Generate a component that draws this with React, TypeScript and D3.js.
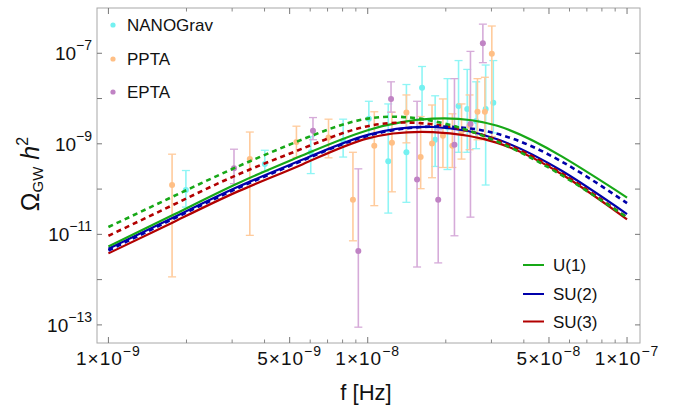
import React from 'react'
import * as d3 from 'd3'

// model curves (f in Hz, Omega h^2)
const curveFreq = [1e-9, 1.78e-9, 3.16e-9, 5.62e-9, 1e-8, 1.78e-8, 3.16e-8, 5.62e-8, 1e-7]
const u1Solid = [5.4e-12, 2.7e-11, 1.35e-10, 5.6e-10, 2.0e-9, 3.6e-9, 2.5e-9, 5.2e-10, 6.5e-11]
const u1Dashed = [1.45e-11, 6.9e-11, 3.16e-10, 1.26e-9, 3.6e-9, 3.2e-9, 1.12e-9, 2.0e-10, 2.35e-11]
const su2Solid = [4.8e-12, 2.35e-11, 1.12e-10, 4.5e-10, 1.58e-9, 2.35e-9, 1.26e-9, 2.5e-10, 2.8e-11]
const su2Dashed = [4.4e-12, 2.2e-11, 1.05e-10, 4.3e-10, 1.5e-9, 2.4e-9, 1.66e-9, 4.0e-10, 4.9e-11]
const su3Solid = [3.8e-12, 1.86e-11, 8.9e-11, 3.55e-10, 1.32e-9, 1.82e-9, 1.05e-9, 2.1e-10, 2.15e-11]
const su3Dashed = [9.3e-12, 4.5e-11, 2.1e-10, 7.9e-10, 2.45e-9, 2.7e-9, 1.2e-9, 2.2e-10, 2.35e-11]

// PTA data: frequency, central value, upper and lower end of the bar
const nanoFreq = [1.99e-9, 4.01e-9, 6.03e-9, 8.04e-9, 1.01e-8, 1.2e-8, 1.41e-8, 1.62e-8, 1.82e-8, 2.03e-8, 2.24e-8, 2.42e-8, 2.62e-8, 2.85e-8, 3.05e-8]
const nanoVal = [9.5e-11, 3.6e-10, 6.5e-10, 1.17e-9, 3.6e-9, 4.1e-10, 6.5e-10, 1.74e-8, 1.23e-9, 2.34e-9, 6.8e-9, 5.9e-9, 3.2e-9, 5.9e-9, 8.1e-9]
const nanoHi = [2.57e-10, 7.2e-10, 1.45e-9, 3.5e-9, 8.7e-9, 7.6e-9, 2.04e-8, 5.1e-8, 1.15e-8, 2.75e-8, 6.9e-8, 4.4e-8, 2.34e-8, 5.5e-8, 6.9e-8]
const nanoLo = [4.0e-11, 2.45e-10, 2.2e-10, 5.1e-10, 1.29e-9, 2.95e-11, 5.1e-11, 3.4e-9, 3.16e-10, 2.7e-10, 6.5e-10, 6.5e-10, 7.8e-10, 1.23e-10, 1.74e-9]

const pptaFreq = [1.76e-9, 3.51e-9, 5.31e-9, 7.06e-9, 8.77e-9, 1.06e-8, 1.24e-8, 1.41e-8, 1.6e-8, 1.77e-8, 1.95e-8, 2.12e-8, 2.3e-8, 2.47e-8, 2.65e-8, 2.83e-8, 3.01e-8]
const pptaVal = [1.23e-10, 4.6e-10, 1.1e-9, 1.38e-9, 5.8e-11, 9.1e-10, 1.05e-9, 4.9e-9, 5.1e-10, 1.02e-9, 1.51e-9, 9.1e-10, 1.86e-9, 2.5e-9, 5.1e-9, 5.1e-9, 9.8e-8]
const pptaHi = [5.9e-10, 1.82e-9, 2.45e-9, 3.5e-9, 6.5e-10, 5.1e-9, 5.0e-9, 1.2e-8, 4.0e-9, 7.2e-9, 9.8e-9, 4.6e-9, 7.6e-9, 1.2e-8, 2.75e-8, 2.95e-8, 4.0e-7]
const pptaLo = [1.15e-12, 9.5e-12, 5.0e-10, 4.9e-10, 7.2e-12, 4.3e-11, 8.7e-11, 1.05e-9, 1.02e-10, 1.78e-10, 3.0e-10, 3.0e-10, 4.6e-10, 7.4e-10, 1.23e-9, 1.23e-9, 1.45e-9]

const eptaFreq = [3.05e-9, 6.15e-9, 9.2e-9, 1.23e-8, 1.55e-8, 1.87e-8, 2.16e-8, 2.49e-8, 2.78e-8]
const eptaVal = [2.9e-10, 1.95e-9, 4.3e-12, 9.8e-9, 1.62e-10, 5.8e-11, 9.5e-10, 2.75e-9, 1.66e-7]
const eptaHi = [7.6e-10, 3.8e-9, 2.8e-10, 2.34e-8, 8.7e-9, 2.04e-9, 2.75e-8, 1.1e-7, 4.4e-7]
const eptaLo = [1.32e-10, 1.23e-9, 8.9e-14, 5.0e-9, 1.9e-12, 2.34e-12, 9.3e-12, 2.4e-11, 6.2e-8]

const xMajor = [1e-9, 5e-9, 1e-8, 5e-8, 1e-7]
const xMajorLabels = ['1×10', '5×10', '1×10', '5×10', '1×10']
const xMajorExp = ['−9', '−9', '−8', '−8', '−7']
const yLabelExp = [-7, -9, -11, -13]

const W = 676
const H = 406
const left = 97, right = 640, top = 8, bottom = 343

export default function App() {
  const x = d3.scaleLog().domain([Math.pow(10, -9.044), Math.pow(10, -6.95)]).range([left, right])
  const y = d3.scaleLog().domain([Math.pow(10, -13.4), 1e-6]).range([bottom, top])

  const line = d3.line<[number, number]>()
    .x(d => x(d[0]))
    .y(d => y(d[1]))
    .curve(d3.curveNatural)
  const path = (vals: number[]) => line(curveFreq.map((f, i) => [f, vals[i]] as [number, number])) || ''

  // minor x ticks
  const xMinor: number[] = []
  for (let e = -9; e <= -8; e++) {
    for (let m = 2; m <= 9; m++) {
      if (m !== 5) xMinor.push(m * Math.pow(10, e))
    }
  }
  const yTicks = d3.range(-13, -6).map(e => Math.pow(10, e))

  const datasets = [
    { freq: nanoFreq, val: nanoVal, hi: nanoHi, lo: nanoLo, dot: '#74f1f1', bar: '#8ff5f5' },
    { freq: pptaFreq, val: pptaVal, hi: pptaHi, lo: pptaLo, dot: '#ffbf85', bar: '#ffcb9c' },
    { freq: eptaFreq, val: eptaVal, hi: eptaHi, lo: eptaLo, dot: '#c083c4', bar: '#d6abd9' },
  ]

  const curves = [
    { vals: su3Solid, color: '#b20000', dash: null },
    { vals: su2Solid, color: '#0000aa', dash: null },
    { vals: u1Solid, color: '#17a817', dash: null },
    { vals: su3Dashed, color: '#b20000', dash: '5,4' },
    { vals: su2Dashed, color: '#0000aa', dash: '5,4' },
    { vals: u1Dashed, color: '#17a817', dash: '5,4' },
  ]

  const font = 'Liberation Sans, Arial, sans-serif'
  const frame = '#a8a8a8'

  return (
    <svg width={W} height={H} style={{ position: 'absolute', left: 0, top: 0, background: '#fff' }} fontFamily={font}>
      <defs>
        <clipPath id="plot">
          <rect x={left} y={top} width={right - left} height={bottom - top} />
        </clipPath>
      </defs>

      <g clipPath="url(#plot)">
        {datasets.map((ds, k) => (
          <g key={k}>
            {ds.freq.map((f, i) => {
              const cx = x(f)
              return (
                <g key={i}>
                  <line x1={cx} x2={cx} y1={y(ds.hi[i])} y2={y(ds.lo[i])} stroke={ds.bar} strokeWidth={1.6} />
                  <line x1={cx - 4} x2={cx + 4} y1={y(ds.hi[i])} y2={y(ds.hi[i])} stroke={ds.bar} strokeWidth={1.3} />
                  <line x1={cx - 4} x2={cx + 4} y1={y(ds.lo[i])} y2={y(ds.lo[i])} stroke={ds.bar} strokeWidth={1.3} />
                  <circle cx={cx} cy={y(ds.val[i])} r={3} fill={ds.dot} />
                </g>
              )
            })}
          </g>
        ))}
        {curves.map((c, i) => (
          <path key={i} d={path(c.vals)} fill="none" stroke={c.color}
            strokeWidth={c.dash ? 2.6 : 2.2} strokeDasharray={c.dash || undefined} />
        ))}
      </g>

      {/* frame */}
      <rect x={left} y={top} width={right - left} height={bottom - top} fill="none" stroke={frame} strokeWidth={1} />

      {/* x ticks, bottom and top */}
      {xMajor.map((t, i) => (
        <g key={'xm' + i}>
          <line x1={x(t)} x2={x(t)} y1={bottom} y2={bottom - 6} stroke="#777" />
          <line x1={x(t)} x2={x(t)} y1={top} y2={top + 6} stroke="#777" />
          <text x={x(t)} y={365} fontSize={19} textAnchor="middle" fill="#111" letterSpacing={1}>
            {xMajorLabels[i]}
            <tspan fontSize={14} dy={-9}>{xMajorExp[i]}</tspan>
          </text>
        </g>
      ))}
      {xMinor.map((t, i) => (
        <g key={'xn' + i}>
          <line x1={x(t)} x2={x(t)} y1={bottom} y2={bottom - 3.5} stroke="#888" />
          <line x1={x(t)} x2={x(t)} y1={top} y2={top + 3.5} stroke="#888" />
        </g>
      ))}

      {/* y ticks, left and right */}
      {yTicks.map((t, i) => (
        <g key={'y' + i}>
          <line x1={left} x2={left + 5} y1={y(t)} y2={y(t)} stroke="#777" />
          <line x1={right} x2={right - 5} y1={y(t)} y2={y(t)} stroke="#777" />
        </g>
      ))}
      {yLabelExp.map(e => (
        <text key={'yl' + e} x={92} y={y(Math.pow(10, e)) + 7} fontSize={19} textAnchor="end" fill="#111">
          10
          <tspan fontSize={14} dy={-10}>{'−' + Math.abs(e)}</tspan>
        </text>
      ))}

      {/* axis titles */}
      <text x={366} y={400} fontSize={22} textAnchor="middle" fill="#111">f [Hz]</text>
      <text transform="translate(39,174) rotate(-90)" textAnchor="middle" fill="#111" fontSize={25}>
        Ω
        <tspan fontSize={15} dy={4}>GW</tspan>
        <tspan fontSize={25} dy={-4} fontStyle="italic"> h</tspan>
        <tspan fontSize={16} dy={-11}>2</tspan>
      </text>

      {/* legend, data */}
      {[
        { label: 'NANOGrav', color: '#74f1f1', yy: 25 },
        { label: 'PPTA', color: '#ffbf85', yy: 59 },
        { label: 'EPTA', color: '#c083c4', yy: 92 },
      ].map(d => (
        <g key={d.label}>
          <circle cx={113} cy={d.yy} r={2.6} fill={d.color} />
          <text x={127} y={d.yy + 6} fontSize={17} fill="#111">{d.label}</text>
        </g>
      ))}

      {/* legend, models */}
      {[
        { label: 'U(1)', color: '#17a817', yy: 265 },
        { label: 'SU(2)', color: '#0000aa', yy: 294 },
        { label: 'SU(3)', color: '#b20000', yy: 321.5 },
      ].map(d => (
        <g key={d.label}>
          <line x1={523} x2={544} y1={d.yy} y2={d.yy} stroke={d.color} strokeWidth={2} />
          <text x={553} y={d.yy + 6} fontSize={17} fill="#111">{d.label}</text>
        </g>
      ))}
    </svg>
  )
}
